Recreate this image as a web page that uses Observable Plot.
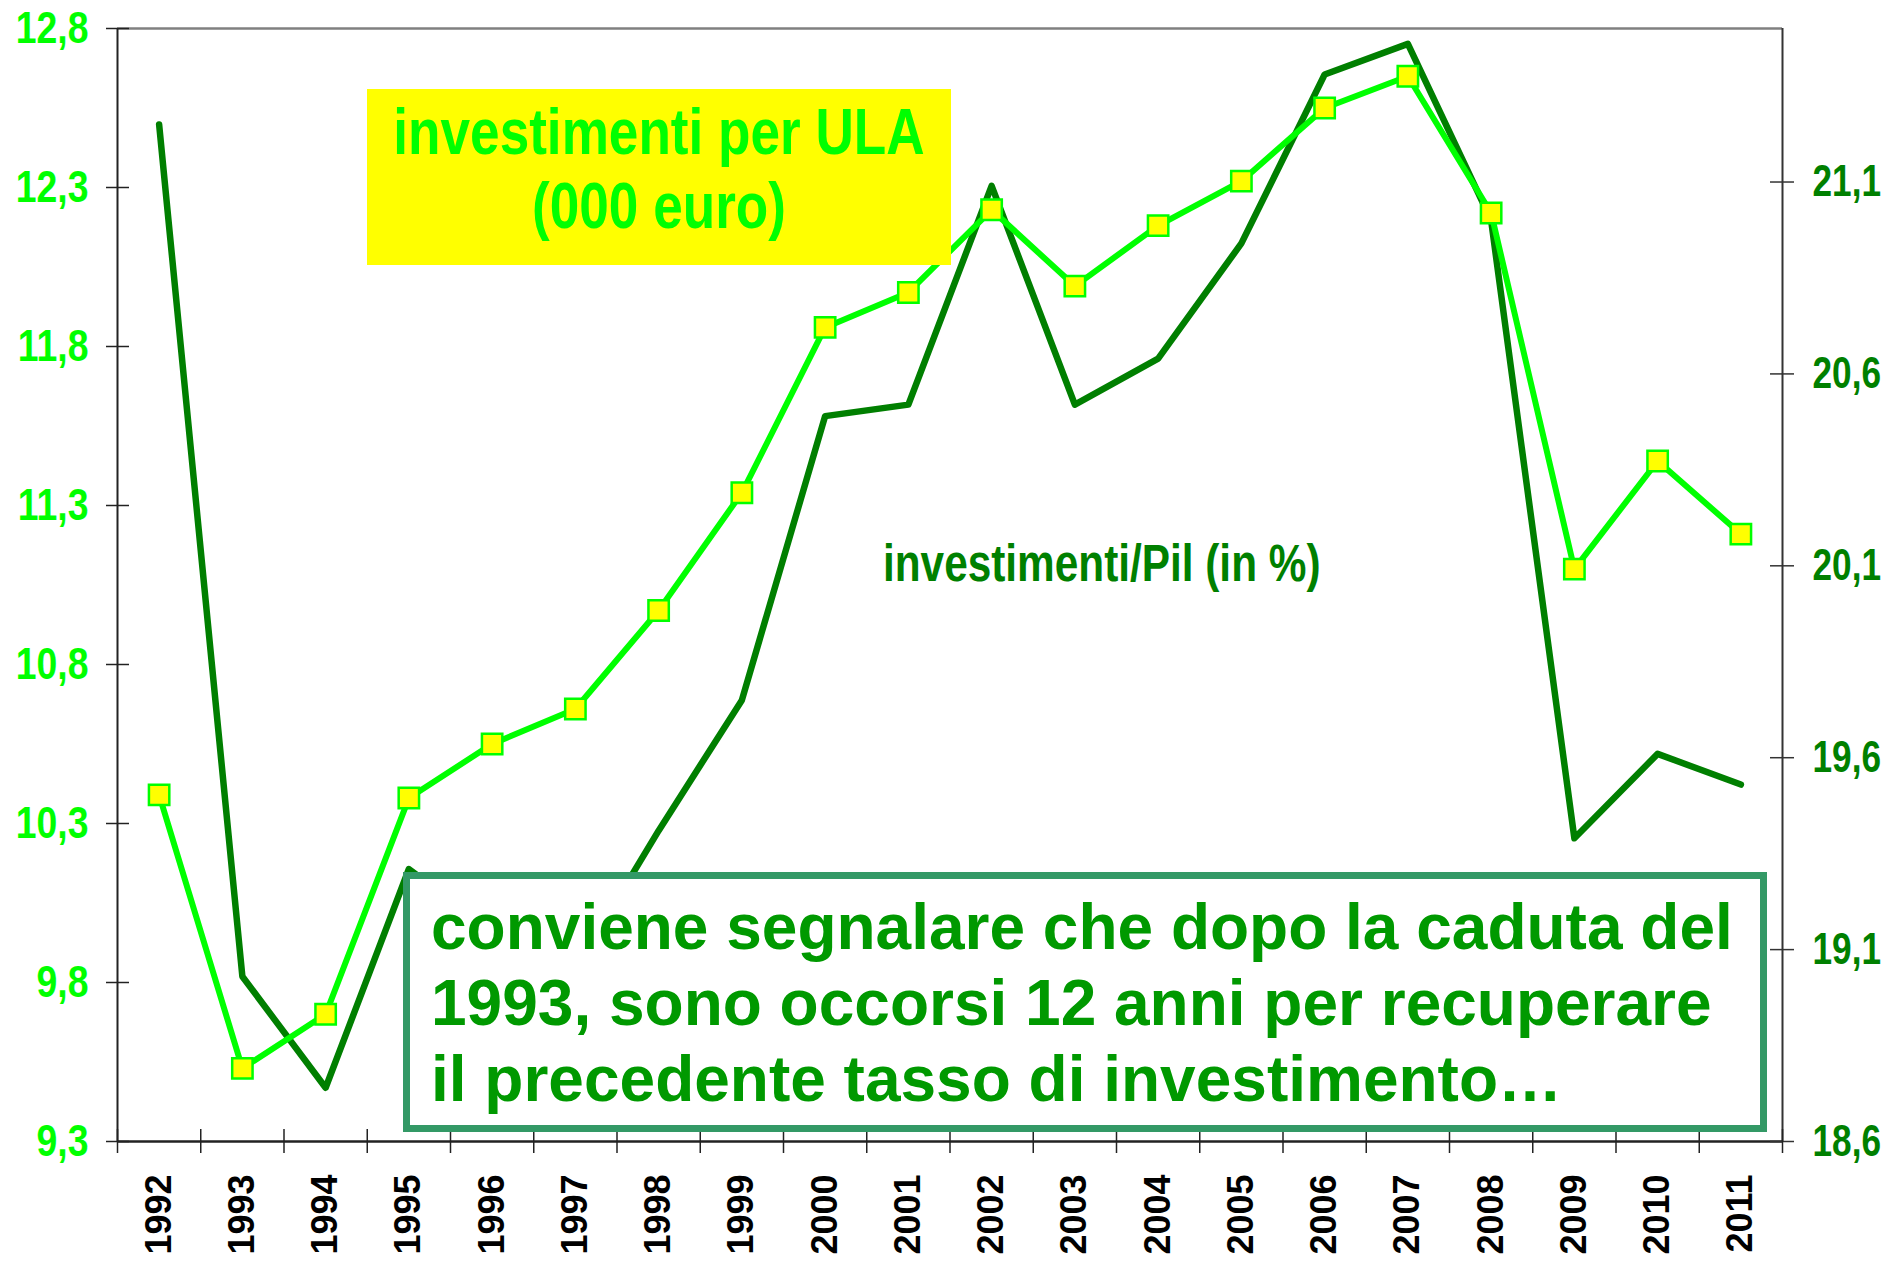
<!DOCTYPE html>
<html>
<head>
<meta charset="utf-8">
<script src="https://cdn.jsdelivr.net/npm/d3@7"></script>
<script src="https://cdn.jsdelivr.net/npm/@observablehq/plot@0.6"></script>
<style>
  html, body { margin: 0; padding: 0; background: #fff; }
  #wrap { position: relative; width: 1904px; height: 1264px; overflow: hidden; }
  .narrow { font-family: "Liberation Sans", Arial, sans-serif; font-weight: bold; }
  #ula { position: absolute; left: 367px; top: 89px; width: 584px; height: 176px; background: #FFFF00; color: #00FF00; font-size: 64px; line-height: 74px; box-sizing: border-box; padding-top: 6px; }
  #ula span { display: block; margin: 0 -150px; text-align: center; white-space: nowrap; transform: scaleX(0.83); transform-origin: 50% 50%; }
  #pil { position: absolute; left: 883px; top: 534px; color: #008000; font-size: 51px; line-height: 60px; white-space: nowrap; }
  #pil span { display: inline-block; transform: scaleX(0.83); transform-origin: 0 50%; }
  #note { position: absolute; left: 403px; top: 872px; width: 1364px; height: 260px; box-sizing: border-box; border: 7px solid #339966; background: #fff; color: #009900; font-family: "Liberation Sans", Arial, sans-serif; font-weight: bold; font-size: 64px; line-height: 76px; padding: 10px 0 0 21px; white-space: nowrap; }
</style>
</head>
<body>
<div id="wrap"></div>
<script>
// ---- data ----
const years = [1992, 1993, 1994, 1995, 1996, 1997, 1998, 1999, 2000, 2001, 2002, 2003, 2004, 2005, 2006, 2007, 2008, 2009, 2010, 2011];
const ulaValues = [10.39, 9.53, 9.70, 10.38, 10.55, 10.66, 10.97, 11.34, 11.86, 11.97, 12.23, 11.99, 12.18, 12.32, 12.55, 12.65, 12.22, 11.10, 11.44, 11.21];
const pilValues = [21.25, 19.03, 18.74, 19.31, 19.15, 19.05, 19.41, 19.75, 20.49, 20.52, 21.09, 20.52, 20.64, 20.94, 21.38, 21.46, 21.00, 19.39, 19.61, 19.53];
const leftTicks = [9.3, 9.8, 10.3, 10.8, 11.3, 11.8, 12.3, 12.8];
const rightTicks = [18.6, 19.1, 19.6, 20.1, 20.6, 21.1];
const leftDomain = [9.3, 12.8];
const rightDomain = [18.6, 21.5];
const ulaTitle = ["investimenti per ULA", "(000 euro)"];
const pilLabel = "investimenti/Pil (in %)";
const noteLines = ["conviene segnalare che dopo la caduta del", "1993, sono occorsi 12 anni per recuperare", "il precedente tasso di investimento…"];

// ---- helpers ----
const toLeft = v => leftDomain[0] + (v - rightDomain[0]) * (leftDomain[1] - leftDomain[0]) / (rightDomain[1] - rightDomain[0]);
const fromLeft = v => rightDomain[0] + (v - leftDomain[0]) * (rightDomain[1] - rightDomain[0]) / (leftDomain[1] - leftDomain[0]);
const fmt = v => v.toFixed(1).replace(".", ",");
const ula = years.map((y, i) => ({year: y, v: ulaValues[i]}));
const pil = years.map((y, i) => ({year: y, v: toLeft(pilValues[i])}));
const xMin = years[0] - 0.5, xMax = years[years.length - 1] + 0.5;
const bounds = d3.range(xMin, xMax + 0.01, 1);
const sans = '"Liberation Sans", Arial, sans-serif';

const chart = Plot.plot({
  width: 1904,
  height: 1264,
  marginLeft: 117,
  marginRight: 122,
  marginTop: 28,
  marginBottom: 123,
  x: {type: "linear", domain: [xMin, xMax]},
  y: {domain: leftDomain},
  style: {background: "transparent", overflow: "visible"},
  marks: [
    Plot.ruleY([leftDomain[1]], {stroke: "#808080", strokeWidth: 2.5}),
    Plot.ruleX([xMin], {stroke: "#222", strokeWidth: 2}),
    Plot.ruleX([xMax], {stroke: "#333", strokeWidth: 2}),
    Plot.ruleY([leftDomain[0]], {stroke: "#222", strokeWidth: 2.5}),
    Plot.ruleY(leftTicks, {x1: xMin, x2: xMin, insetLeft: -11, insetRight: -12, stroke: "#222", strokeWidth: 1.5}),
    Plot.ruleY(rightTicks.map(toLeft), {x1: xMax, x2: xMax, insetLeft: -12, insetRight: -12, stroke: "#333", strokeWidth: 1.5}),
    Plot.ruleX(bounds, {y1: leftDomain[0], y2: leftDomain[0], insetTop: -12, insetBottom: -12, stroke: "#222", strokeWidth: 1.5}),
    Plot.axisY({ticks: leftTicks, tickSize: 0, tickPadding: 29, tickFormat: fmt, fontSize: 44, fontWeight: "bold", fontFamily: sans, fill: "#00FF00", label: null}),
    Plot.axisY({anchor: "right", ticks: rightTicks.map(toLeft), tickSize: 0, tickPadding: 30, tickFormat: d => fmt(fromLeft(d)), fontSize: 44, fontWeight: "bold", fontFamily: sans, fill: "#008000", label: null}),
    Plot.axisX({ticks: years, tickSize: 0, tickPadding: 33, tickRotate: -90, tickFormat: d => String(d), fontSize: 36, fontWeight: "bold", fontFamily: sans, fill: "#000", label: null}),
    Plot.line(pil, {x: "year", y: "v", stroke: "#007F00", strokeWidth: 6.5, strokeLinejoin: "round", strokeLinecap: "round"}),
    Plot.line(ula, {x: "year", y: "v", stroke: "#00FF00", strokeWidth: 6, strokeLinejoin: "round"}),
    Plot.dot(ula, {x: "year", y: "v", symbol: "square", r: 11.5, fill: "#FFFF00", stroke: "#00FF00", strokeWidth: 2.5})
  ]
});

const wrap = document.getElementById("wrap");
wrap.appendChild(chart);

// condense the y tick labels (narrow bold face in the original)
const yGroups = chart.querySelectorAll('g[aria-label="y-axis tick label"]');
yGroups.forEach((g, gi) => {
  const k = gi === 0 ? 0.85 : 0.8;
  g.querySelectorAll("text").forEach(t => {
    const l = t.getComputedTextLength();
    t.setAttribute("textLength", (l * k).toFixed(1));
    t.setAttribute("lengthAdjust", "spacingAndGlyphs");
  });
});

const ulaBox = document.createElement("div");
ulaBox.id = "ula"; ulaBox.className = "narrow";
ulaBox.innerHTML = ulaTitle.map(s => `<span>${s}</span>`).join("");
wrap.appendChild(ulaBox);

const pilBox = document.createElement("div");
pilBox.id = "pil"; pilBox.className = "narrow";
pilBox.innerHTML = `<span>${pilLabel}</span>`;
wrap.appendChild(pilBox);

const note = document.createElement("div");
note.id = "note";
note.innerHTML = noteLines.join("<br>");
wrap.appendChild(note);
</script>
</body>
</html>
